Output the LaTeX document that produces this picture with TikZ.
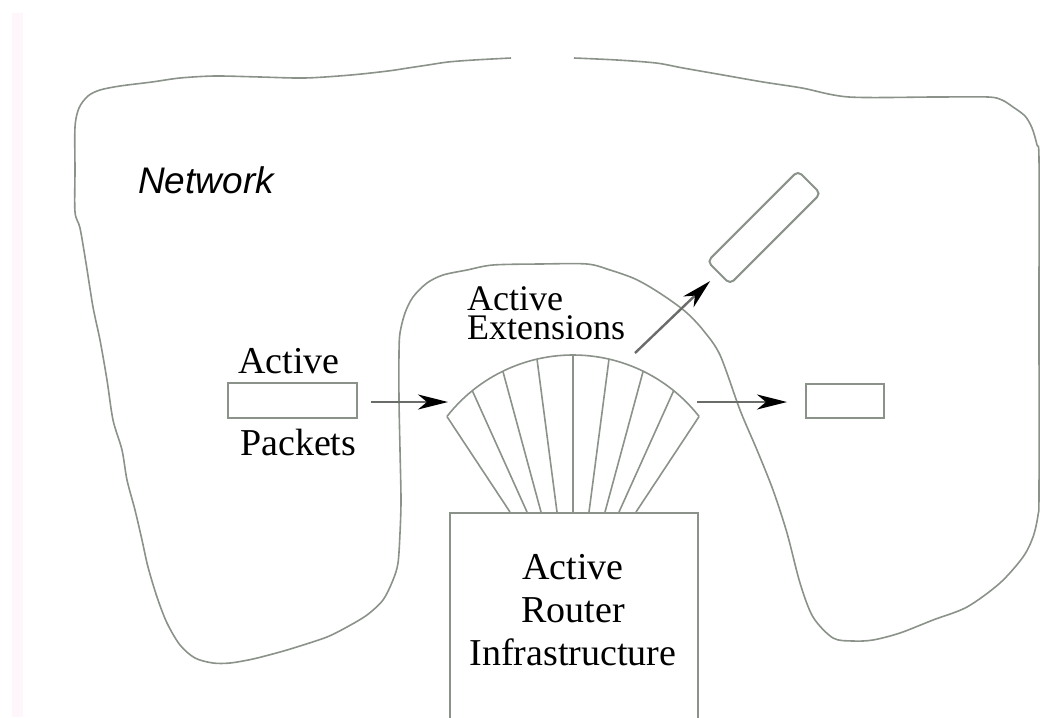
\documentclass[tikz,border=0pt]{standalone}
\usepackage{fontspec}
\setmainfont{Liberation Serif}
\newfontfamily\netfont{Liberation Sans}
\usetikzlibrary{arrows.meta,calc}
\definecolor{outline}{RGB}{138,146,138}
\definecolor{shaft}{RGB}{105,108,105}
\definecolor{strip}{RGB}{255,246,252}
\tikzset{
  edge/.style={draw=outline, line width=1.6pt, line join=round},
  boxed/.style={draw=outline, line width=2pt, inner sep=0pt},
  flow/.style={draw=shaft, line width=2.4pt,
    -{Stealth[black, length=30pt, width=15pt, inset=9pt]}},
  lbl/.style={font=\fontsize{38}{43}\selectfont, inner sep=0pt, align=center},
  extlbl/.style={font=\fontsize{36}{29}\selectfont, inner sep=0pt, align=left},
  netlbl/.style={font=\netfont\itshape\fontsize{37}{40}\selectfont, inner sep=0pt},
}
\begin{document}
\begin{tikzpicture}[x=1pt,y=-1pt]
\useasboundingbox (0,0) rectangle (1040,717);
\fill[strip] (12,13) rectangle (23,717);

% network boundary, open at the top
\draw[edge] plot[smooth, tension=0.5] coordinates {
  (511,58) (474,60) (448,62) (428,65) (408,68) (388,71) (351,75) (305,78)
  (260,77) (215,76) (180,78) (152,82) (120,86) (100,90) (88,96)
  (79,108) (75,127) (75,170) (75,212) (80,228) (86,263) (93,307) (100,340)
  (107,380) (113,420) (122,450) (127,480) (135,510) (142,540) (148,567)
  (157,597) (167,623) (180,645) (195,658) (213,663) (230,663) (253,659)
  (280,652) (300,646) (327,637) (347,627) (367,615) (383,600) (393,580)
  (398,563) (400,533) (401,500) (400,450) (399,400) (399,353) (400,333)
  (405,313) (413,297) (427,283) (443,275) (467,270) (493,265) (540,264)
  (587,264) (610,270) (633,278) (650,287) (670,300) (687,313) (703,330)
  (720,355) (740,410) (757,450) (773,490) (787,533) (800,583) (813,617)
  (833,638) (853,641) (873,640) (900,633) (933,620) (967,607) (1000,583)
  (1023,557) (1033,537) (1038,515) (1039,490) (1039,300) (1039,160)
  (1037,145) (1032,128) (1025,116) (1013,107) (1002,100) (988,97) (935,97)
  (849,97) (802,88) (763,82) (723,75) (683,68) (656,63) (617,60) (574,58)
};

\node[netlbl, anchor=base west] (net) at (138,193) {Network};

% router infrastructure and the fan of extensions on top of it
\node[boxed, minimum width=248pt, minimum height=240pt, anchor=north west]
  (router) at (449,512) {};
\node[lbl, anchor=base] (rtext) at (573,665) {Active\\Router\\Infrastructure};

\coordinate (fc) at (573,515);
\draw[edge] ($(fc)+(142:160pt)$) arc[start angle=142, end angle=38, radius=160pt];
\foreach \a/\d in {142/-63,129/-46,116/-32,103/-16,90/0,77/16,64/32,51/46,38/63}
  \draw[edge] ($(fc)+(\a:160pt)$) -- (573+\d,512);

\node[extlbl, anchor=base west] (extl) at (467,339) {Active\\Extensions};

% packets
\node[boxed, minimum width=129pt, minimum height=35pt] (pkt) at (292.5,400.5) {};
\node[lbl, anchor=base west] (pkttop) at (238,373) {Active};
\node[lbl, anchor=base west] (pktbot) at (240,455) {Packets};

\node[boxed, minimum width=78pt, minimum height=34pt] (out) at (845,401) {};
\node[boxed, rounded corners=5pt, minimum width=128pt, minimum height=32pt,
  rotate=45] (ext) at (764,227.5) {};

\coordinate (fanL) at (448,402);
\coordinate (fanR) at (697,402);
\coordinate (fanT) at (635,353);

\draw[flow, shorten <=13pt] (pkt.east |- fanL) -- (fanL);
\draw[flow, shorten >=18pt] (fanR) -- (out.west |- fanR);
\draw[flow, shorten >=11pt] (fanT) -- (ext.west);
\end{tikzpicture}
\end{document}
